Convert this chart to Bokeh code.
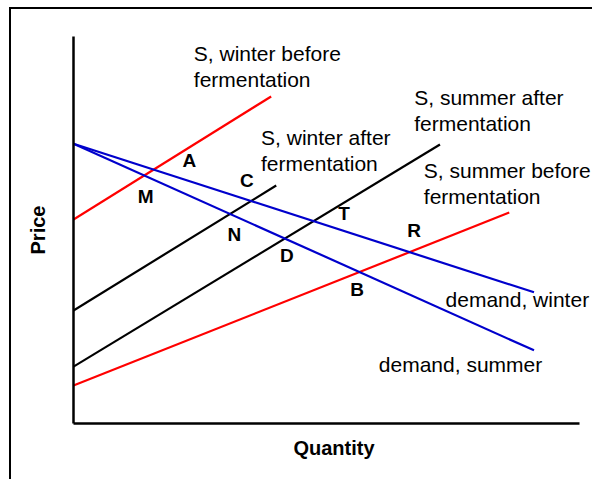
from bokeh.plotting import figure
from bokeh.models import Range1d, Label
from bokeh.embed import file_html
from bokeh.resources import INLINE

# ---- data (Quantity, Price in arbitrary units 0..10) ----
s_winter_before_q = [0.0, 3.91]
s_winter_before_p = [5.27, 8.45]

s_winter_after_q = [0.0, 4.01]
s_winter_after_p = [2.92, 6.15]

s_summer_after_q = [0.0, 7.25]
s_summer_after_p = [1.47, 7.21]

s_summer_before_q = [0.0, 8.62]
s_summer_before_p = [0.98, 5.45]

d_winter_q = [0.0, 9.11]
d_winter_p = [7.23, 3.39]

d_summer_q = [0.0, 9.11]
d_summer_p = [7.23, 1.89]

# curve labels: text lines, anchor (left x, centre y of first line)
curve_label_text = [
    ["S, winter before", "fermentation"],
    ["S, winter after", "fermentation"],
    ["S, summer after", "fermentation"],
    ["S, summer before", "fermentation"],
    ["demand, winter"],
    ["demand, summer"],
]
curve_label_q = [2.38, 3.71, 6.74, 6.93, 7.36, 6.04]
curve_label_p = [9.56, 7.39, 8.42, 6.54, 3.20, 1.53]

# point letters
point_names = ["A", "M", "C", "N", "T", "R", "D", "B"]
point_q = [2.29, 1.43, 3.43, 3.18, 5.35, 6.74, 4.22, 5.61]
point_p = [6.80, 5.87, 6.28, 4.88, 5.43, 4.99, 4.34, 3.46]

Q_MAX = 10.0
P_MAX = 10.0

RED = "#ff0000"
BLUE = "#0000cc"
BLACK = "#000000"
FONT = "Liberation Sans"

W, H = 583, 472
BL, BT, BB, BR = 62, 27, 58, 0
AXIS_PX = 505.5  # pixel length of the quantity axis
q_end = Q_MAX * (W - BL - BR) / AXIS_PX

p = figure(
    width=W, height=H,
    x_range=Range1d(0, q_end), y_range=Range1d(0, P_MAX),
    output_backend="svg", toolbar_location=None,
    min_border_left=BL, min_border_right=BR,
    min_border_top=BT, min_border_bottom=BB,
    x_axis_label="Quantity", y_axis_label="Price",
)
p.styles = {
    "margin-left": "9px", "margin-top": "7px",
    "border-left": "2px solid black", "border-top": "2px solid black",
}
p.grid.visible = False
p.outline_line_color = None
p.background_fill_color = "white"
p.border_fill_color = "white"

for ax in (p.xaxis[0], p.yaxis[0]):
    ax.ticker = []
    ax.major_tick_line_color = None
    ax.minor_tick_line_color = None
    ax.major_label_text_font_size = "0px"
    ax.major_label_standoff = 0
    ax.axis_line_width = 2.5
    ax.axis_line_color = "black"
    ax.axis_label_text_font = FONT
    ax.axis_label_text_font_style = "bold"
    ax.axis_label_text_font_size = "20px"
    ax.axis_label_text_color = "black"
p.xaxis[0].bounds = (0, Q_MAX)
p.yaxis[0].bounds = (0, P_MAX)
p.xaxis[0].axis_label_standoff = 13
p.yaxis[0].axis_label_standoff = 25

lw = 2.2
p.line(s_winter_before_q, s_winter_before_p, line_color=RED, line_width=lw)
p.line(s_summer_before_q, s_summer_before_p, line_color=RED, line_width=lw)
p.line(s_winter_after_q, s_winter_after_p, line_color=BLACK, line_width=lw)
p.line(s_summer_after_q, s_summer_after_p, line_color=BLACK, line_width=lw)
p.line(d_winter_q, d_winter_p, line_color=BLUE, line_width=lw)
p.line(d_summer_q, d_summer_p, line_color=BLUE, line_width=lw)

line_gap = 26  # px between text lines
for lines, q, pr in zip(curve_label_text, curve_label_q, curve_label_p):
    for i, t in enumerate(lines):
        p.add_layout(Label(
            x=q, y=pr, y_offset=-line_gap * i, text=t,
            text_font=FONT, text_font_size="21px", text_color="black",
            text_align="left", text_baseline="middle",
        ))

for name, q, pr in zip(point_names, point_q, point_p):
    p.add_layout(Label(
        x=q, y=pr, text=name,
        text_font=FONT, text_font_size="19px", text_font_style="bold",
        text_color="black", text_align="center", text_baseline="middle",
    ))

open("out.html", "w").write(file_html(p, INLINE))
